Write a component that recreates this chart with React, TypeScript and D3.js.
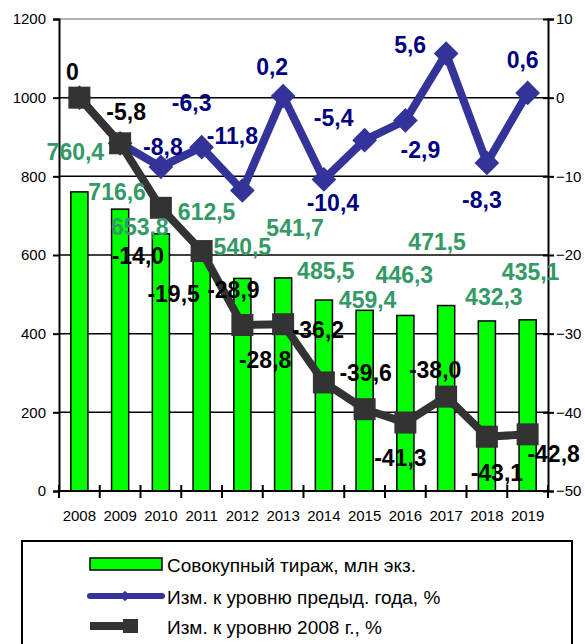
import { useRef, useEffect } from 'react';
import * as d3 from 'd3';

const years = ['2008', '2009', '2010', '2011', '2012', '2013', '2014', '2015', '2016', '2017', '2018', '2019'];
const circulation = [760.4, 716.6, 653.8, 612.5, 540.5, 541.7, 485.5, 459.4, 446.3, 471.5, 432.3, 435.1];
const prevYearChange = [0, -5.8, -8.8, -6.3, -11.8, 0.2, -10.4, -5.4, -2.9, 5.6, -8.3, 0.6];
const change2008 = [0, -5.8, -14.0, -19.5, -28.9, -28.8, -36.2, -39.6, -41.3, -38.0, -43.1, -42.8];
const leftTicks = [0, 200, 400, 600, 800, 1000, 1200];
const rightTicks = [-50, -40, -30, -20, -10, 0, 10];
const legendLabels = ['Совокупный тираж, млн экз.', 'Изм. к уровню предыд. года, %', 'Изм. к уровню 2008 г., %'];

// label placement relative to its point (layout only)
const greenOffsets = [[-4, -40], [-3, -17], [-21, -7], [5, -38], [0, -31], [12, -50], [2, -29], [3, -10], [-1, -40], [-9, -64], [7, -24], [3, -48]];
const blueOffsets = [null, null, [2, -20], [-10, -44], [-10, -54], [-11, -29], [9, 24], [-31, -22], [15, 30], [-36, -9], [-5, 37], [-5, -33]];
const blackOffsets = [[-7, -26], [6, -31], [-23, 48], [-28, 43], [-9, -35], [-18, 36], [-6, -52], [1, -36], [-5, 35], [-11, -27], [10, 36], [26, 20]];

const fmt = (v: number) => (v === 0 ? '0' : v.toFixed(1).replace('.', ','));

export default function App() {
  const svgRef = useRef<SVGSVGElement | null>(null);

  useEffect(() => {
    if (!svgRef.current) return;
    const svg = d3.select(svgRef.current);
    svg.selectAll('*').remove();

    const left = 59, right = 548, top = 19, bottom = 491;
    const font = '"Liberation Sans", Arial, sans-serif';

    const x = d3.scaleBand<string>().domain(years).range([left, right]).paddingInner(0.58).paddingOuter(0.29);
    const xb = d3.scaleBand<string>().domain(years).range([left, right]);
    const yL = d3.scaleLinear().domain([0, 1200]).range([bottom, top]);
    const yR = d3.scaleLinear().domain([-50, 10]).range([bottom, top]);
    const cx = (i: number) => (xb(years[i]) as number) + xb.bandwidth() / 2;

    // grid
    svg.append('g')
      .selectAll('line')
      .data(leftTicks.filter(t => t > 0))
      .enter()
      .append('line')
      .attr('x1', left).attr('x2', right)
      .attr('y1', d => yL(d)).attr('y2', d => yL(d))
      .attr('stroke', d => (d === 1200 ? '#999' : '#000'))
      .attr('stroke-width', 1.5);

    // bars
    svg.append('g')
      .selectAll('rect')
      .data(circulation)
      .enter()
      .append('rect')
      .attr('x', (_, i) => x(years[i]) as number)
      .attr('width', x.bandwidth())
      .attr('y', d => yL(d))
      .attr('height', d => bottom - yL(d))
      .attr('fill', '#00ff00')
      .attr('stroke', '#000')
      .attr('stroke-width', 1.5);

    // axes
    const axL = svg.append('g').attr('transform', `translate(${left},0)`)
      .call(d3.axisLeft(yL).tickValues(leftTicks).tickFormat(d3.format('d')).tickSize(6).tickPadding(7));
    const axR = svg.append('g').attr('transform', `translate(${right},0)`)
      .call(d3.axisRight(yR).tickValues(rightTicks).tickFormat(d3.format('d')).tickSize(6).tickPadding(2));
    axR.selectAll('.tick line').attr('x1', -5);
    const axB = svg.append('g').attr('transform', `translate(0,${bottom})`)
      .call(d3.axisBottom(xb).tickSize(0).tickPadding(19));
    [axL, axR, axB].forEach(ax => {
      ax.select('.domain').attr('stroke', '#000').attr('stroke-width', 2);
      ax.selectAll('line').attr('stroke', '#000').attr('stroke-width', 2);
      ax.selectAll('text').attr('font-family', font).attr('font-size', 15).attr('fill', '#000');
    });
    axB.select('.domain').attr('d', `M${left},0H${right}`);
    svg.append('g')
      .selectAll('line')
      .data(d3.range(years.length + 1))
      .enter()
      .append('line')
      .attr('x1', i => left + i * xb.bandwidth()).attr('x2', i => left + i * xb.bandwidth())
      .attr('y1', bottom - 6).attr('y2', bottom + 7)
      .attr('stroke', '#000').attr('stroke-width', 2);

    // blue line
    const blueLine = d3.line<number>().x((_, i) => cx(i)).y(d => yR(d));
    svg.append('path')
      .attr('d', blueLine(prevYearChange))
      .attr('fill', 'none').attr('stroke', '#333399').attr('stroke-width', 8).attr('stroke-linejoin', 'miter');
    const diamond = d3.symbol().type(d3.symbolDiamond2).size(390);
    svg.append('g')
      .selectAll('path')
      .data(prevYearChange)
      .enter()
      .append('path')
      .attr('d', diamond() as string)
      .attr('transform', (d, i) => `translate(${cx(i)},${yR(d)})`)
      .attr('fill', '#333399');

    // black line
    const blackLine = d3.line<number>().x((_, i) => cx(i)).y(d => yR(d));
    svg.append('path')
      .attr('d', blackLine(change2008))
      .attr('fill', 'none').attr('stroke', '#333333').attr('stroke-width', 8);
    svg.append('g')
      .selectAll('rect')
      .data(change2008)
      .enter()
      .append('rect')
      .attr('x', (_, i) => cx(i) - 11)
      .attr('y', d => yR(d) - 11)
      .attr('width', 22).attr('height', 22)
      .attr('fill', '#333333');

    // labels
    const label = (tx: number, ty: number, text: string, color: string) =>
      svg.append('text')
        .attr('x', tx).attr('y', ty)
        .attr('text-anchor', 'middle').attr('dominant-baseline', 'central')
        .attr('font-family', font).attr('font-weight', 'bold').attr('font-size', 23)
        .attr('fill', color).text(text);

    circulation.forEach((v, i) => {
      const [dx, dy] = greenOffsets[i];
      label(cx(i) + dx, yL(v) + dy, fmt(v), '#339966');
    });
    prevYearChange.forEach((v, i) => {
      const o = blueOffsets[i];
      if (!o) return;
      label(cx(i) + o[0], yR(v) + o[1], fmt(v), '#000080');
    });
    change2008.forEach((v, i) => {
      const [dx, dy] = blackOffsets[i];
      label(cx(i) + dx, yR(v) + dy, fmt(v), '#000');
    });

    // legend
    const lg = svg.append('g');
    lg.append('rect')
      .attr('x', 22).attr('y', 541).attr('width', 550).attr('height', 120)
      .attr('fill', '#fff').attr('stroke', '#000').attr('stroke-width', 2);
    lg.append('rect')
      .attr('x', 90).attr('y', 558).attr('width', 72).attr('height', 12)
      .attr('fill', '#00ff00').attr('stroke', '#000').attr('stroke-width', 1.5);
    lg.append('line')
      .attr('x1', 90).attr('x2', 162).attr('y1', 596).attr('y2', 596)
      .attr('stroke', '#333399').attr('stroke-width', 6).attr('stroke-linecap', 'round');
    lg.append('path')
      .attr('d', d3.symbol().type(d3.symbolDiamond2).size(70)() as string)
      .attr('transform', 'translate(125,596)').attr('fill', '#333399');
    lg.append('line')
      .attr('x1', 90).attr('x2', 136).attr('y1', 626).attr('y2', 626)
      .attr('stroke', '#333333').attr('stroke-width', 8);
    lg.append('rect')
      .attr('x', 123).attr('y', 619).attr('width', 15).attr('height', 14)
      .attr('fill', '#333333');
    const textY = [565, 597, 627];
    legendLabels.forEach((t, i) => {
      lg.append('text')
        .attr('x', 167).attr('y', textY[i])
        .attr('dominant-baseline', 'central')
        .attr('font-family', font).attr('font-size', 19).attr('fill', '#000')
        .text(t);
    });
  }, []);

  return (
    <svg
      ref={svgRef}
      width={585}
      height={644}
      style={{ position: 'absolute', left: 0, top: 0, background: '#fff' }}
    />
  );
}
